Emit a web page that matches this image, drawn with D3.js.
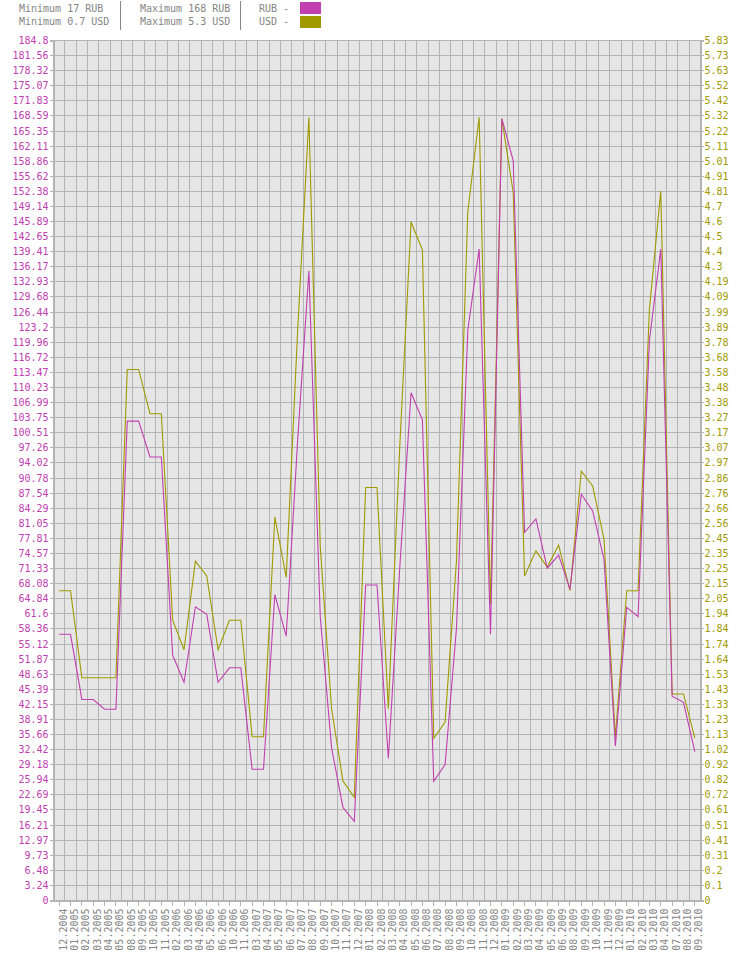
<!DOCTYPE html>
<html>
<head>
<meta charset="utf-8">
<script src="https://cdn.jsdelivr.net/npm/d3@7"></script>
<style>
  html, body { margin: 0; padding: 0; background: #ffffff; }
  svg { display: block; }
  text { font-family: "DejaVu Sans Mono", "Liberation Mono", monospace; font-size: 10px; }
</style>
</head>
<body>
<svg id="chart" width="740" height="980"></svg>
<script>
// ---- data ----
const categories = ["12.2004","01.2005","02.2005","03.2005","04.2005","05.2005","08.2005","09.2005","10.2005","11.2005",
  "02.2006","03.2006","04.2006","05.2006","06.2006","10.2006","11.2006",
  "03.2007","04.2007","05.2007","06.2007","07.2007","08.2007","09.2007","10.2007","11.2007","12.2007",
  "01.2008","02.2008","03.2008","04.2008","05.2008","06.2008","07.2008","08.2008","09.2008","10.2008","11.2008","12.2008",
  "01.2009","02.2009","03.2009","04.2009","05.2009","06.2009","08.2009","09.2009","10.2009","11.2009","12.2009",
  "01.2010","02.2010","03.2010","04.2010","07.2010","08.2010","09.2010"];

const rubValues = [57.2,57.2,43.2,43.2,41.1,41.1,103.0,103.0,95.3,95.3,
  52.7,46.9,63.1,61.5,46.9,50.0,50.0,
  28.2,28.2,65.7,56.8,98.5,135.3,61.0,32.8,20.0,17.0,
  67.8,67.8,30.5,71.3,109.1,103.3,25.6,29.2,58.5,122.6,140.0,57.2,
  168.0,159.0,79.1,82.0,71.4,74.2,66.9,87.3,83.7,73.3,33.2,
  63.0,61.0,120.4,140.0,43.9,42.6,32.0];

const usdValues = [2.10,2.10,1.51,1.51,1.51,1.51,3.60,3.60,3.30,3.30,
  1.90,1.70,2.30,2.20,1.70,1.90,1.90,
  1.11,1.11,2.60,2.19,3.85,5.31,2.40,1.30,0.81,0.70,
  2.80,2.80,1.30,3.07,4.60,4.41,1.10,1.21,2.30,4.67,5.31,2.01,
  5.30,4.80,2.20,2.37,2.26,2.41,2.10,2.91,2.81,2.45,1.11,
  2.10,2.10,4.01,4.81,1.40,1.40,1.10];

const seriesNames = ["RUB", "USD"];
const rubAxisMax = 184.8;
const usdAxisMax = 5.83;
const tickSteps = 57;
const rubTicks = d3.range(tickSteps + 1).map(k => rubAxisMax * k / tickSteps);
const usdTicks = d3.range(tickSteps + 1).map(k => usdAxisMax * k / tickSteps);

(function () {
// ---- style ----
const RUB_COLOR = "#C040B0";
const USD_COLOR = "#A09A00";
const GRID = "#B4B4B4";
const BG = "#E6E6E6";
const TEXT_GRAY = "#858585";

const plotLeft = 53.5, plotRight = 700.5, plotTop = 40.5, plotBottom = 900.5;

const svg = d3.select("#chart");

const x = d3.scaleBand().domain(categories).range([plotLeft, plotRight]).paddingInner(0).paddingOuter(0);
const yR = d3.scaleLinear().domain([0, rubAxisMax]).range([plotBottom, plotTop]);
const yU = d3.scaleLinear().domain([0, usdAxisMax]).range([plotBottom, plotTop]);
const px = v => Math.round(v - 0.5) + 0.5;

// background
svg.append("rect").attr("x", plotLeft).attr("y", plotTop)
  .attr("width", plotRight - plotLeft).attr("height", plotBottom - plotTop).attr("fill", BG);

// grid
const grid = svg.append("g").attr("stroke", GRID).attr("stroke-width", 1).attr("shape-rendering", "crispEdges");
grid.selectAll("line.h").data(rubTicks).join("line").attr("class", "h")
  .attr("x1", plotLeft).attr("x2", plotRight)
  .attr("y1", d => px(yR(d))).attr("y2", d => px(yR(d)));
const bounds = categories.map(c => x(c)).concat([plotRight]);
grid.selectAll("line.v").data(bounds).join("line").attr("class", "v")
  .attr("y1", plotTop).attr("y2", plotBottom)
  .attr("x1", d => px(d)).attr("x2", d => px(d));

// left axis (RUB)
const fmt = d3.format(".2~f");
const axL = svg.append("g").attr("transform", `translate(${px(plotLeft)},0)`)
  .call(d3.axisLeft(yR).tickValues(rubTicks).tickFormat(fmt).tickSize(4).tickPadding(1));
axL.select(".domain").attr("stroke", GRID).attr("shape-rendering", "crispEdges");
axL.selectAll(".tick line").attr("stroke", GRID).attr("shape-rendering", "crispEdges");
axL.selectAll(".tick").attr("transform", d => `translate(0,${px(yR(d))})`);
axL.selectAll(".tick text").attr("fill", RUB_COLOR).attr("dy", "0.36em")
  .style("font-family", '"DejaVu Sans Mono", monospace').style("font-size", "10px");

// right axis (USD)
const axR = svg.append("g").attr("transform", `translate(${px(plotRight)},0)`)
  .call(d3.axisRight(yU).tickValues(usdTicks).tickFormat(fmt).tickSize(3).tickPadding(1));
axR.select(".domain").attr("stroke", GRID).attr("shape-rendering", "crispEdges");
axR.selectAll(".tick line").attr("stroke", GRID).attr("shape-rendering", "crispEdges");
axR.selectAll(".tick").attr("transform", d => `translate(0,${px(yU(d))})`);
axR.selectAll(".tick text").attr("fill", USD_COLOR).attr("dy", "0.36em")
  .style("font-family", '"DejaVu Sans Mono", monospace').style("font-size", "10px");

// bottom axis
const axB = svg.append("g").attr("transform", `translate(0,${px(plotBottom)})`)
  .call(d3.axisBottom(x).tickSize(5).tickSizeOuter(0));
axB.select(".domain").attr("stroke", GRID).attr("shape-rendering", "crispEdges");
axB.selectAll(".tick line").attr("stroke", GRID).attr("shape-rendering", "crispEdges");
axB.selectAll(".tick").attr("transform", d => `translate(${px(x(d) + x.bandwidth() / 2)},0)`);
axB.selectAll(".tick text")
  .attr("fill", TEXT_GRAY)
  .attr("transform", "translate(7,8) rotate(-90)")
  .attr("x", 0).attr("y", 0).attr("dy", 0)
  .attr("text-anchor", "end")
  .style("font-family", '"DejaVu Sans Mono", monospace').style("font-size", "10px");

// lines
const cx = c => x(c) + x.bandwidth() / 2;
const lineR = d3.line().x((d, i) => cx(categories[i])).y(d => yR(d));
const lineU = d3.line().x((d, i) => cx(categories[i])).y(d => yU(d));
svg.append("path").datum(usdValues).attr("d", lineU)
  .attr("fill", "none").attr("stroke", USD_COLOR).attr("stroke-width", 1.1);
svg.append("path").datum(rubValues).attr("d", lineR)
  .attr("fill", "none").attr("stroke", RUB_COLOR).attr("stroke-width", 1.1);

// header
const hdr = svg.append("g").attr("fill", TEXT_GRAY);
const rubMin = d3.min(rubValues), rubMx = d3.max(rubValues);
const usdMin = d3.min(usdValues), usdMx = d3.max(usdValues);
const f0 = d3.format(".0f"), f1 = d3.format(".1~f");
hdr.append("text").attr("x", 19).attr("y", 11.5).text(`Minimum ${f0(rubMin)} ${seriesNames[0]}`);
hdr.append("text").attr("x", 19).attr("y", 25).text(`Minimum ${f1(usdMin)} ${seriesNames[1]}`);
hdr.append("text").attr("x", 140).attr("y", 11.5).text(`Maximum ${f0(rubMx)} ${seriesNames[0]}`);
hdr.append("text").attr("x", 140).attr("y", 25).text(`Maximum ${f1(usdMx)} ${seriesNames[1]}`);
hdr.append("text").attr("x", 259).attr("y", 11.5).text(`${seriesNames[0]} -`);
hdr.append("text").attr("x", 259).attr("y", 25).text(`${seriesNames[1]} -`);
svg.append("line").attr("x1", 120.5).attr("x2", 120.5).attr("y1", 1).attr("y2", 30)
  .attr("stroke", TEXT_GRAY).attr("shape-rendering", "crispEdges");
svg.append("line").attr("x1", 240.5).attr("x2", 240.5).attr("y1", 1).attr("y2", 30)
  .attr("stroke", TEXT_GRAY).attr("shape-rendering", "crispEdges");
svg.append("rect").attr("x", 300).attr("y", 2).attr("width", 21).attr("height", 12).attr("fill", RUB_COLOR);
svg.append("rect").attr("x", 300).attr("y", 16).attr("width", 21).attr("height", 12).attr("fill", USD_COLOR);
})();
</script>
</body>
</html>
